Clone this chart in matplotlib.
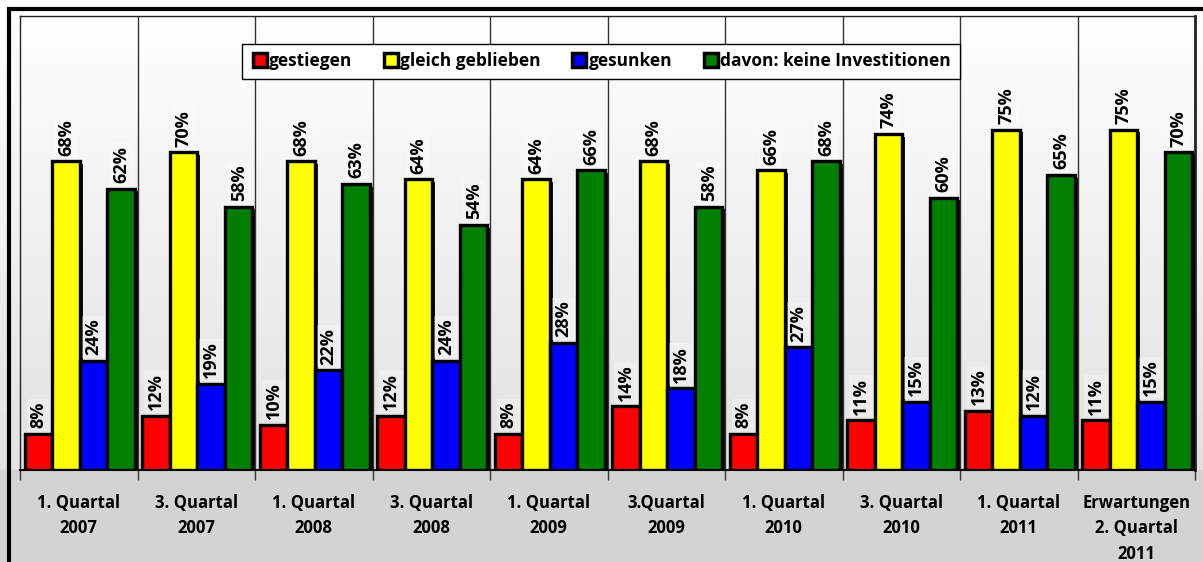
import numpy as np
import matplotlib
matplotlib.use("Agg")
import matplotlib.pyplot as plt
from matplotlib import patheffects as pe
from matplotlib.lines import Line2D
from matplotlib.patches import Rectangle

# Daten
quartale = ["1. Quartal\n2007", "3. Quartal\n2007", "1. Quartal\n2008", "3. Quartal\n2008",
            "1. Quartal\n2009", "3.Quartal\n2009", "1. Quartal\n2010", "3. Quartal\n2010",
            "1. Quartal\n2011", "Erwartungen\n2. Quartal\n2011"]
gestiegen = [8, 12, 10, 12, 8, 14, 8, 11, 13, 11]
gleich_geblieben = [68, 70, 68, 64, 64, 68, 66, 74, 75, 75]
gesunken = [24, 19, 22, 24, 28, 18, 27, 15, 12, 15]
keine_investitionen = [62, 58, 63, 54, 66, 58, 68, 60, 65, 70]

serien = ["gestiegen", "gleich geblieben", "gesunken", "davon: keine Investitionen"]
werte_alle = [gestiegen, gleich_geblieben, gesunken, keine_investitionen]
farben = ["#ff0000", "#ffff00", "#0000ff", "#008000"]

plt.rcParams['font.family'] = ['Open Sans', 'DejaVu Sans']
plt.rcParams['font.weight'] = 'bold'

W, H = 1203, 562
fig = plt.figure(figsize=(W / 100, H / 100), dpi=100)

# Hintergrund: Verlauf weiss -> grau, Beschriftungszone grau
bg = fig.add_axes([0, 0, 1, 1], zorder=-10)
zeilen = np.arange(H)
achse_y = 470
grau = np.where(zeilen < achse_y, 1.0 - 0.12 * zeilen / achse_y, 0.83)
bild = np.repeat(grau[:, None], 4, axis=1)
bg.imshow(bild, cmap="gray", vmin=0, vmax=1, aspect="auto", extent=[0, 1, 0, 1])
bg.axis("off")

ax = fig.add_axes([20 / W, (H - achse_y) / H, 1175 / W, (achse_y - 16) / H])
ax.patch.set_visible(False)

x = np.arange(len(quartale))
w = 0.234
schatten = [pe.SimplePatchShadow(offset=(2, -2), shadow_rgbFace="black", alpha=0.9), pe.Normal()]

for i, (werte, farbe) in enumerate(zip(werte_alle, farben)):
    pos = x - 1.5 * w + i * w + 0.01
    balken = ax.bar(pos, werte, w, color=farbe, edgecolor="black", linewidth=2.4, zorder=3)
    for b in balken:
        b.set_path_effects(schatten)
    for p, v in zip(pos, werte):
        ax.annotate(f"{v}%", (p, v), xytext=(0, 4), textcoords="offset points",
                    rotation=90, ha="center", va="bottom", fontsize=13,
                    fontweight="bold", zorder=4,
                    bbox=dict(boxstyle="square,pad=0.15", facecolor="white",
                              edgecolor="none", alpha=0.3))

# Trennlinien zwischen den Gruppen
for g in x[:-1] + 0.5:
    ax.axvline(g, color="#333333", linewidth=1.0, zorder=1)

ax.set_xlim(-0.5, len(quartale) - 0.5)
ax.set_ylim(0, 100)
ax.set_yticks([])
ax.set_xticks(x)
ax.set_xticklabels(quartale, fontsize=12, fontweight="bold", linespacing=1.55)
ax.tick_params(axis="x", which="major", length=0, pad=17)
ax.set_xticks(np.arange(-0.5, len(quartale)), minor=True)
ax.tick_params(axis="x", which="minor", length=7, width=1, color="#333333", direction="out")

for s in ["left", "top"]:
    ax.spines[s].set_linewidth(1.0)
    ax.spines[s].set_color("#222222")
ax.spines["right"].set_linewidth(2.0)
ax.spines["right"].set_color("#222222")
ax.spines["bottom"].set_linewidth(1.5)

handles = [Line2D([], [], linestyle="none", marker="s", markersize=10,
                  markerfacecolor=f, markeredgecolor="black", markeredgewidth=2.5)
           for f in farben]
leg = ax.legend(handles, serien, loc="upper center", bbox_to_anchor=(0.4945, 0.958),
                ncol=4, fancybox=False, framealpha=1, edgecolor="black",
                prop={"weight": "bold", "size": 12.5}, handletextpad=0.05,
                columnspacing=1.7, borderpad=0.5, handlelength=1.0)
leg.get_frame().set_linewidth(1.0)
leg.set_zorder(5)

# Aeusserer Rahmen
fig.patches.append(Rectangle((8.5 / W, -0.1), 1.2, (H - 8.5) / H + 0.1,
                             transform=fig.transFigure, fill=False,
                             edgecolor="black", linewidth=3.0, zorder=10))

fig.savefig("out.png", dpi=100)
